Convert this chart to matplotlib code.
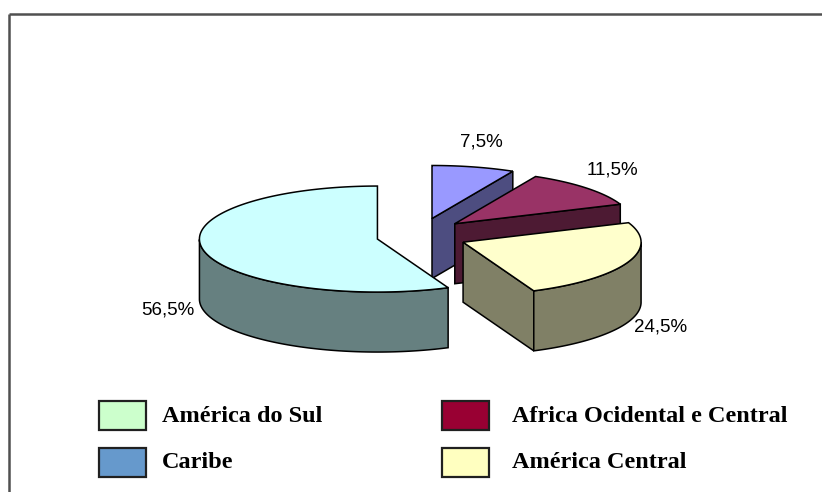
import numpy as np
import matplotlib.pyplot as plt
from matplotlib.patches import Polygon, Rectangle

# slices in drawing order, clockwise from 12 o'clock
labels = ['Caribe', 'Africa Ocidental e Central', 'América Central', 'América do Sul']
values = [7.5, 11.5, 24.5, 56.5]
top_colors = ['#9999FF', '#993366', '#FFFFCC', '#CCFFFF']
side_colors = ['#4D4D80', '#4D1A33', '#808066', '#668080']

# legend as it appears (row by row)
legend_labels = ['América do Sul', 'Africa Ocidental e Central', 'Caribe', 'América Central']
legend_colors = ['#CCFFCC', '#990033', '#6699CC', '#FFFFC0']

fig = plt.figure(figsize=(8.22, 4.92), dpi=100)
ax = fig.add_axes([0, 0, 1, 1])
ax.set_xlim(0, 822)
ax.set_ylim(492, 0)
ax.axis('off')

# frame (top and left only)
ax.plot([9, 822], [14, 14], color='#505050', lw=1.8, solid_capstyle='butt')
ax.plot([9, 9], [14, 492], color='#505050', lw=1.8, solid_capstyle='butt')

# pie geometry
cx, cy = 421.5, 235.5
rx, ry = 178, 53
depth = 60
ex, ey = 45, 17.5
lw = 1.1


def pt(apex, t, dz=0):
    return (apex[0] + rx * np.cos(t), apex[1] - ry * np.sin(t) + dz)


slices = []
start = 90.0
for i, v in enumerate(values):
    hi = start
    lo = start - 3.6 * v
    start = lo
    mid = np.radians((lo + hi) / 2)
    apex = (cx + ex * np.cos(mid), cy - ey * np.sin(mid))
    slices.append((i, np.radians(lo), np.radians(hi), apex))

# back to front
for i, lo, hi, apex in sorted(slices, key=lambda s: s[3][1]):
    # radial faces
    for t, n in [(lo, lo - np.pi / 2), (hi, hi + np.pi / 2)]:
        if np.sin(n) < -1e-6:
            p = pt(apex, t)
            quad = [apex, p, (p[0], p[1] + depth), (apex[0], apex[1] + depth)]
            ax.add_patch(Polygon(quad, closed=True, fc=side_colors[i], ec='black', lw=lw))
    # outer side
    ts = np.linspace(lo, hi, 300)
    front = ts[np.sin(ts) <= 0]
    if len(front) > 1:
        topc = [pt(apex, t) for t in front]
        botc = [pt(apex, t, depth) for t in front[::-1]]
        ax.add_patch(Polygon(topc + botc, closed=True, fc=side_colors[i], ec='black', lw=lw))
    # top face
    face = [apex] + [pt(apex, t) for t in ts]
    ax.add_patch(Polygon(face, closed=True, fc=top_colors[i], ec='black', lw=lw, joinstyle='miter'))

    # percent label
    mid = (lo + hi) / 2
    lx = apex[0] + 1.2 * rx * np.cos(mid)
    ly = apex[1] - 1.4 * ry * np.sin(mid) + (depth if np.sin(mid) < 0 else 0) - 4
    ax.text(lx, ly, f'{values[i]:.1f}'.replace('.', ',') + '%', ha='center', va='center',
            fontsize=13.5, family='Liberation Sans', color='black')

# legend
col_x = [99, 442]
text_x = [162, 512]
row_y = [401, 448]
for k, (lab, col) in enumerate(zip(legend_labels, legend_colors)):
    by = row_y[k // 2]
    ax.add_patch(Rectangle((col_x[k % 2], by), 47, 29, fc=col, ec='#202020', lw=1.6))
    ax.text(text_x[k % 2], by + 15, lab, ha='left', va='center', fontsize=17.5,
            family='Liberation Serif', fontweight='bold', color='black')

fig.savefig('out.png', dpi=100, facecolor='white')
